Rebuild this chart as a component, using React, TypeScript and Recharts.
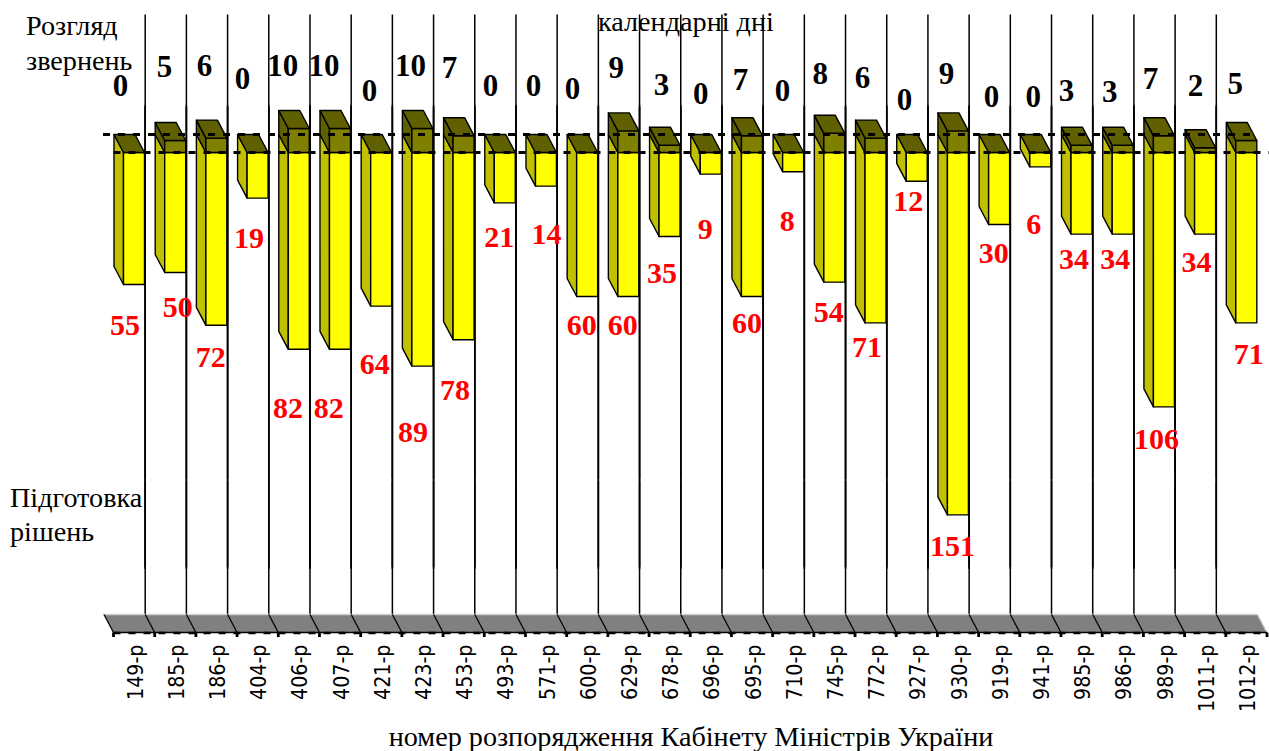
import React from 'react';
import { ComposedChart, Bar, XAxis, YAxis, ReferenceLine, LabelList } from 'recharts';

const categories = ['149-р','185-р','186-р','404-р','406-р','407-р','421-р','423-р','453-р','493-р','571-р','600-р','629-р','678-р','696-р','695-р','710-р','745-р','772-р','927-р','930-р','919-р','941-р','985-р','986-р','989-р','1011-р','1012-р'];
const reviewDays = [0,5,6,0,10,10,0,10,7,0,0,0,9,3,0,7,0,8,6,0,9,0,0,3,3,7,2,5];
const decisionDays = [55,50,72,19,82,82,64,89,78,21,14,60,60,35,9,60,8,54,71,12,151,30,6,34,34,106,34,71];

// Hand-placed label nudges relative to each bar's end, as in the original slide
const reviewNudgeX = [-13.5,-10.7,-12,-15,-16,-16,-11.7,-12,-14,-14.3,-12.5,-14.7,-12,-8,-10,-11.5,-10.7,-14,-13,-12.3,-11.5,-7.7,-7,-15,-13,-13.5,-9.7,-11];
const reviewNudgeY = [-66.5,-73.5,-72,-73.5,-62.5,-62.5,-61.5,-62.5,-67.7,-66.5,-66.5,-63.5,-63,-61,-58.5,-55.7,-61.5,-60,-60,-52.5,-57,-55.5,-55.5,-55,-54,-56.7,-62,-56.5];
const decisionNudgeX = [-9,2.6,-5.6,-8.5,-10.7,-11.2,-6.5,-9.5,-8.5,-5.5,0.5,-5.5,-5.5,-7.5,-5.5,-5,-6,-5.5,-8.5,-8.5,-5.5,-5.5,-6.5,-7.5,-7.5,-7.5,-8.5,2.5];
const decisionNudgeY = [40.5,34.5,32,40,58.5,58.5,58,66,50,34,48,28.5,28.5,36.5,55,26.5,49,30,24,20,31,28.5,57,25,25,32,28,31];

const data = categories.map((name, i) => ({ name, review: reviewDays[i], decision: -decisionDays[i] }));

const DX = 9.5;
const DY = 18;
const W = 1269;
const H = 751;
const SERIF = '"Liberation Serif", "Times New Roman", serif';
const EDGE = { stroke: '#000', strokeWidth: 1.4, strokeLinejoin: 'round' as const };

const poly = (...p: number[][]) => p.map((q) => q.join(',')).join(' ');

function DecisionBar(props: any) {
  const { x, y, width, height } = props;
  const t = Math.min(y, y + height);
  const b = Math.max(y, y + height);
  return (
    <g>
      <polygon points={poly([x - DX, t - DY], [x, t], [x, b], [x - DX, b - DY])} fill="#C0C000" {...EDGE} />
      <rect x={x} y={t} width={width} height={b - t} fill="#FFFF00" {...EDGE} />
    </g>
  );
}

function ReviewBar(props: any) {
  const { x, y, width, height } = props;
  const t = Math.min(y, y + height);
  const b = Math.max(y, y + height);
  return (
    <g>
      {b > t && <polygon points={poly([x - DX, t - DY], [x, t], [x, b], [x - DX, b - DY])} fill="#606000" {...EDGE} />}
      {b > t && <rect x={x} y={t} width={width} height={b - t} fill="#808000" {...EDGE} />}
      <polygon points={poly([x - DX, t - DY], [x + width - DX, t - DY], [x + width, t], [x, t])} fill="#606000" {...EDGE} />
    </g>
  );
}

function WallLine(props: any) {
  const { x1, y1, y2 } = props;
  const x = x1 - DX;
  const top = y1 - 16.5;
  const bottom = y2 - DY;
  const cuts = [106, 480, 568];
  const stops = [top, ...cuts, bottom];
  return (
    <g>
      {stops.slice(0, -1).map((s, i) => (
        <line key={i} x1={x} x2={x} y1={i === 0 ? s : s + 1} y2={stops[i + 1] - (i === stops.length - 2 ? 0 : 1)} stroke="#000" strokeWidth={1.5} />
      ))}
    </g>
  );
}

function Floor(props: any) {
  const { x1, x2, y1 } = props;
  const n = categories.length;
  const step = (x2 - x1) / n;
  return (
    <g>
      <polygon points={poly([x1 - DX, y1 - DY], [x2 - DX, y1 - DY], [x2, y1], [x1, y1])} fill="#808080" />
      <line x1={x1 - DX - 1} x2={x2 - DX} y1={y1 - DY} y2={y1 - DY} stroke="#D0D0D0" strokeWidth={1.4} />
      <line x1={x2 - DX} x2={x2} y1={y1 - DY} y2={y1} stroke="#D0D0D0" strokeWidth={1.4} />
      <line x1={x1} x2={x2} y1={y1} y2={y1} stroke="#000" strokeWidth={1.4} />
      <line x1={x1} x2={x2} y1={y1 + 0.5} y2={y1 + 0.5} stroke="#000" strokeWidth={2.6} strokeDasharray="7 8" />
      {Array.from({ length: n + 1 }, (_, i) => {
        const x = x1 + i * step;
        return (
          <g key={i}>
            {i < n && <line x1={x - DX} x2={x} y1={y1 - DY} y2={y1} stroke="#000" strokeWidth={1.3} />}
            <line x1={x} x2={x} y1={y1} y2={y1 + 4.5} stroke="#000" strokeWidth={2.8} />
          </g>
        );
      })}
    </g>
  );
}

function ZeroLine(props: any) {
  const { x1, x2, y1, back } = props;
  const shift = back ? DX : 0;
  const rise = back ? DY : 0;
  return (
    <line x1={x1 - shift - (back ? 1 : 0)} x2={x2 - shift + (back ? 0 : 2)} y1={y1 - rise} y2={y1 - rise} stroke="#000" strokeWidth={3} strokeDasharray="7 8" />
  );
}

function AxisTick(props: any) {
  const { x, y, payload } = props;
  const px = x + 8.5;
  const py = y + 4;
  return (
    <text transform={`translate(${px},${py}) rotate(-90) scale(0.91,1)`} textAnchor="end" fontFamily='"DejaVu Sans"' fontSize={21} fill="#000">
      {payload.value}
    </text>
  );
}

function ValueLabel(props: any, values: number[], nx: number[], ny: number[], fill: string, down: boolean, fs: number) {
  const { x, y, width, height, index } = props;
  const edge = down ? Math.max(y, y + height) : Math.min(y, y + height);
  return (
    <text x={x + width / 2 + nx[index]} y={edge + ny[index] + fs * 0.33} textAnchor="middle" fontFamily={SERIF} fontWeight="bold" fontSize={fs} fill={fill}>
      {values[index]}
    </text>
  );
}

const caption = { fontFamily: SERIF, fontSize: 28.2, fill: '#000' };

export default function App() {
  return (
    <div style={{ position: 'absolute', left: 0, top: 0, width: W, height: H, background: '#fff' }}>
      <ComposedChart
        width={W}
        height={H}
        data={data}
        stackOffset="sign"
        barCategoryGap={0}
        margin={{ top: 32.5, right: 2, bottom: 0.5, left: 113.5 }}
      >
        <YAxis hide type="number" domain={[-200, 50]} allowDataOverflow />
        <XAxis dataKey="name" height={118} axisLine={false} tickLine={false} interval={0} tick={AxisTick} />
        {categories.slice(1).map((c) => (
          <ReferenceLine key={c} x={c} position="start" stroke="#000" ifOverflow="visible" shape={WallLine} />
        ))}
        <ReferenceLine y={-200} shape={Floor} ifOverflow="visible" />
        <ReferenceLine y={0} shape={(p: any) => <ZeroLine {...p} back />} ifOverflow="visible" />
        <Bar dataKey="decision" stackId="days" barSize={21} shape={DecisionBar} isAnimationActive={false}>
          <LabelList dataKey="decision" content={(p: any) => ValueLabel(p, decisionDays, decisionNudgeX, decisionNudgeY, '#FF0000', true, 30)} />
        </Bar>
        <Bar dataKey="review" stackId="days" barSize={21} shape={ReviewBar} isAnimationActive={false}>
          <LabelList dataKey="review" content={(p: any) => ValueLabel(p, reviewDays, reviewNudgeX, reviewNudgeY, '#000000', false, 31)} />
        </Bar>
        <ReferenceLine y={0} shape={(p: any) => <ZeroLine {...p} />} ifOverflow="visible" />
        <text x={26} y={35} {...caption}>Розгляд</text>
        <text x={26} y={70} {...caption}>звернень</text>
        <text x={598} y={31} {...caption}>календарні дні</text>
        <text x={10} y={507} {...caption}>Підготовка</text>
        <text x={10} y={541} {...caption}>рішень</text>
        <text x={691} y={746} textAnchor="middle" {...caption}>номер розпорядження Кабінету Міністрів України</text>
      </ComposedChart>
    </div>
  );
}
